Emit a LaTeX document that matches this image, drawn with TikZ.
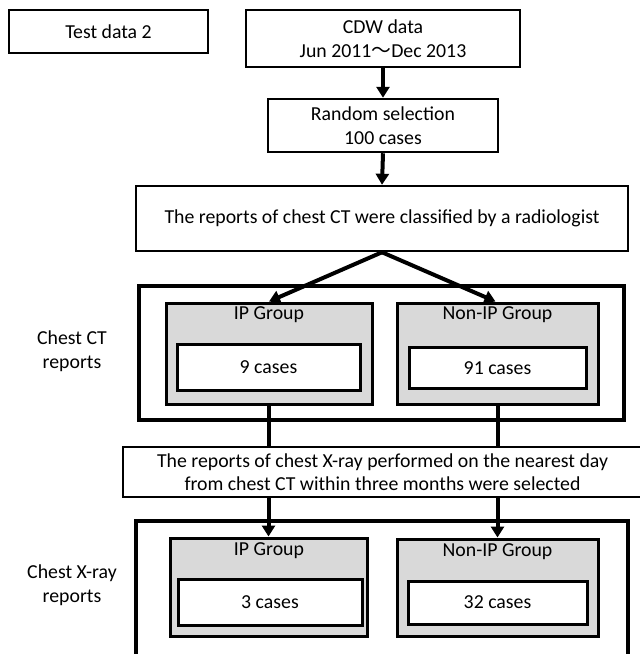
\documentclass[tikz,border=0pt]{standalone}
\usepackage{fontspec}
\setmainfont{Carlito}
\newfontfamily\cjk{Noto Sans CJK JP}
\usetikzlibrary{arrows.meta}

\begin{document}
\begin{tikzpicture}[x=1pt,y=-1pt,
    every node/.style={font=\fontsize{19.8}{24}\selectfont, align=center,
        inner sep=0pt},
    box/.style={draw=black, line width=2.5pt, fill=white},
    outer/.style={draw=black, line width=4.5pt},
    grp/.style={draw=black, line width=3pt, fill=black!15},
    cases/.style={draw=black, line width=3pt, fill=white},
    flow/.style={line width=4pt, -{Triangle[width=13pt,length=11pt]}},
    link/.style={line width=4pt}]
    \useasboundingbox (0,0) rectangle (640,654);

    \node[box, minimum width=199pt, minimum height=43pt] (test) at (108.5,31.5) {Test data 2};
    \node[box, minimum width=274pt, minimum height=57pt] (cdw) at (383,38.5)
        {CDW data\\Jun 2011{\cjk ～}Dec 2013};
    \node[box, minimum width=230pt, minimum height=53pt] (rand) at (383,125.5)
        {Random selection\\100 cases};
    \node[box, minimum width=492pt, minimum height=65pt] (classify) at (382,218.5)
        {The reports of chest CT were classified by a radiologist};

    % chest CT
    \node[outer, minimum width=485pt, minimum height=134pt] (ctbox) at (381.5,353) {};
    \node (ctlab) at (72,351) {Chest CT\\reports};
    \node[grp, minimum width=206pt, minimum height=101pt] (ctip) at (269,353.5) {};
    \node[grp, minimum width=201pt, minimum height=101pt] (ctnon) at (497.5,353.5) {};
    \node (ctipt) at (269,315) {IP Group};
    \node (ctnont) at (497.5,315) {Non-IP Group};
    \node[cases, minimum width=183pt, minimum height=46pt] (ctipn) at (268.5,367) {9 cases};
    \node[cases, minimum width=177pt, minimum height=41pt] (ctnonn) at (497.5,368) {91 cases};

    \node[box, minimum width=519pt, minimum height=50pt] (xray) at (382.5,472)
        {The reports of chest X-ray performed on the nearest day\\[-1pt]
         from chest CT within three months were selected};

    % chest X-ray
    \node[outer, minimum width=492pt, minimum height=140pt] (xrbox) at (382,591) {};
    \node (xrlab) at (72,585.5) {Chest X-ray\\reports};
    \node[grp, minimum width=197pt, minimum height=98pt] (xrip) at (268.5,587) {};
    \node[grp, minimum width=201pt, minimum height=97pt] (xrnon) at (497.5,587.5) {};
    \node (xript) at (269,551) {IP Group};
    \node (xrnont) at (497.5,552) {Non-IP Group};
    \node[cases, minimum width=184pt, minimum height=46pt] (xripn) at (270,602) {3 cases};
    \node[cases, minimum width=179pt, minimum height=43pt] (xrnonn) at (497.5,602.5) {32 cases};

    \draw[flow] (cdw.south) -- (rand.north);
    \draw[flow] (rand.south) -- (classify.north);
    \draw[flow] (classify.south) -- (ctip.north);
    \draw[flow] (classify.south) -- ([xshift=-2pt]ctnon.north);
    \draw[link] (ctip.south) -- (xray.north -| ctip.south);
    \draw[link] (ctnon.south) -- (xray.north -| ctnon.south);
    \draw[flow] (xray.south -| xrip.north) -- (xrip.north);
    \draw[flow] (xray.south -| xrnon.north) -- (xrnon.north);
\end{tikzpicture}
\end{document}
